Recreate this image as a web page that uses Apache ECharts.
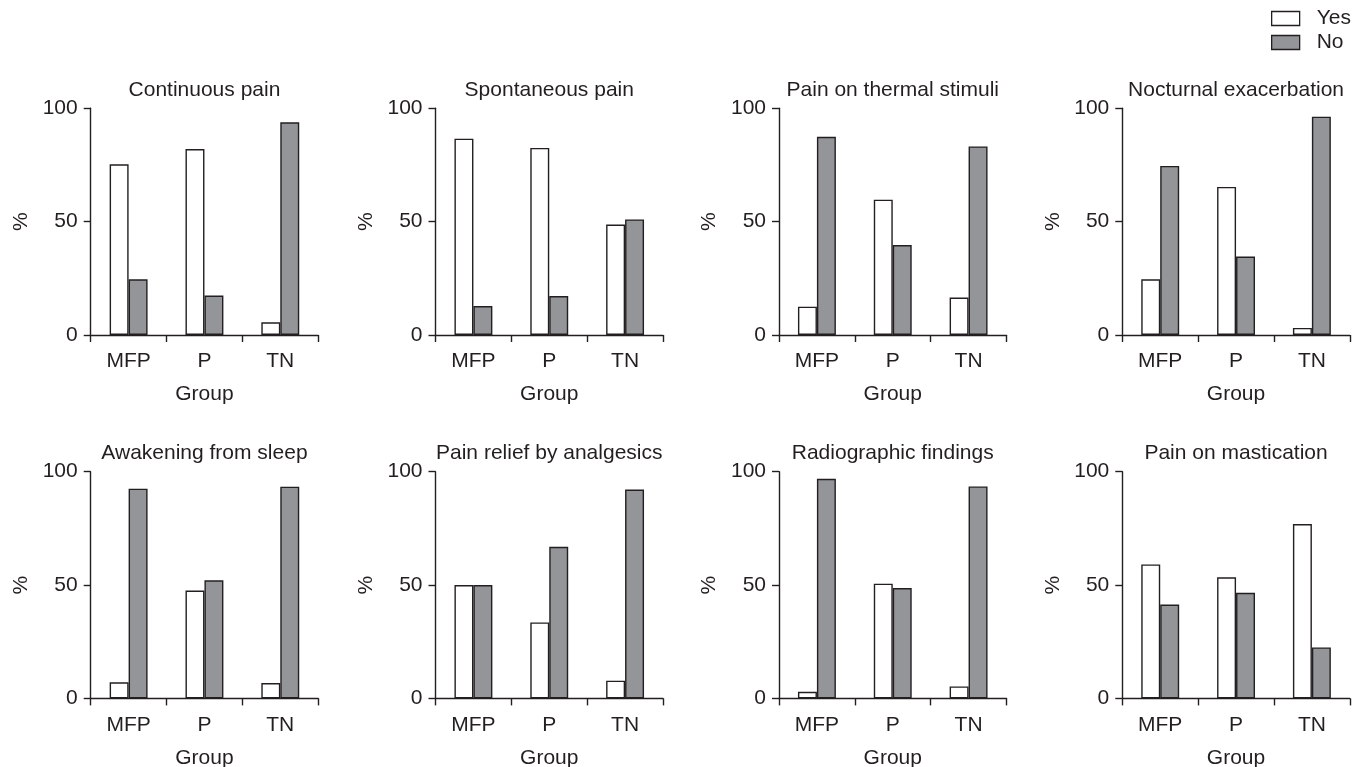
<!DOCTYPE html>
<html>
<head>
<meta charset="utf-8">
<script src="https://cdn.jsdelivr.net/npm/echarts@6/dist/echarts.min.js"></script>
<style>
html,body{margin:0;padding:0;background:#fff;}
#chart{width:1364px;height:767px;}
</style>
</head>
<body>
<div id="chart"></div>
<script>
const categories = ['MFP', 'P', 'TN'];
const panelTitles = [
  'Continuous pain', 'Spontaneous pain', 'Pain on thermal stimuli', 'Nocturnal exacerbation',
  'Awakening from sleep', 'Pain relief by analgesics', 'Radiographic findings', 'Pain on mastication'
];
const yesValues = [
  [75.3, 82.0, 5.6],
  [86.6, 82.5, 48.7],
  [12.5, 59.7, 16.5],
  [24.6, 65.3, 3.1],
  [7.1, 47.6, 6.8],
  [50.0, 33.5, 7.8],
  [2.9, 50.6, 5.3],
  [59.1, 53.4, 76.9]
];
const noValues = [
  [24.6, 17.4, 93.8],
  [12.8, 17.2, 51.0],
  [87.4, 39.7, 83.2],
  [74.6, 34.6, 96.3],
  [92.5, 52.1, 93.4],
  [50.0, 66.9, 92.1],
  [96.9, 48.7, 93.5],
  [41.4, 46.6, 22.5]
];
const yTicks = [0, 50, 100];
const seriesNames = ['Yes', 'No'];

const ink = '#231f20';
const grayFill = '#939598';
const font = '"Liberation Sans", Arial, Helvetica, sans-serif';
const fs = 21;
const colLeft = [90.7, 435.5, 779, 1122.3];
const rowTop = [108.3, 471.7];
const gw = 227.5, gh = 226.7;

const grids = [], xAxes = [], yAxes = [], series = [], titles = [];
for (let i = 0; i < 8; i++) {
  const r = Math.floor(i / 4), c = i % 4;
  grids.push({left: colLeft[c], top: rowTop[r], width: gw, height: gh, containLabel: false, outerBoundsMode: 'none'});
  titles.push({
    text: panelTitles[i],
    left: colLeft[c] + gw / 2,
    top: rowTop[r] - 29,
    textAlign: 'center',
    padding: 0,
    textStyle: {fontSize: fs, fontWeight: 'normal', color: ink, fontFamily: font}
  });
  xAxes.push({
    type: 'category', gridIndex: i, data: categories,
    boundaryGap: true,
    name: 'Group', nameLocation: 'middle', nameGap: 49,
    nameTextStyle: {fontSize: fs, color: ink, fontFamily: font},
    axisLine: {show: true, lineStyle: {color: ink, width: 1.4}},
    axisTick: {show: true, inside: false, length: 7, alignWithLabel: false, lineStyle: {color: ink, width: 1.4}},
    axisLabel: {fontSize: fs, color: ink, margin: 16, fontFamily: font},
    splitLine: {show: false}
  });
  yAxes.push({
    type: 'value', gridIndex: i, min: yTicks[0], max: yTicks[yTicks.length - 1], interval: yTicks[1] - yTicks[0],
    name: '%', nameLocation: 'middle', nameGap: 59, nameRotate: 90,
    nameTextStyle: {fontSize: fs, color: ink, fontFamily: font},
    axisLine: {show: true, lineStyle: {color: ink, width: 1.4}},
    axisTick: {show: true, inside: false, length: 7, lineStyle: {color: ink, width: 1.4}},
    axisLabel: {fontSize: fs, color: ink, margin: 13, fontFamily: font},
    splitLine: {show: false}
  });
  series.push({
    name: seriesNames[0], type: 'bar', xAxisIndex: i, yAxisIndex: i,
    data: yesValues[i], barGap: '0%', barCategoryGap: '50%',
    itemStyle: {color: '#ffffff', borderColor: ink, borderWidth: 1.4},
    emphasis: {disabled: true}, animation: false
  });
  series.push({
    name: seriesNames[1], type: 'bar', xAxisIndex: i, yAxisIndex: i,
    data: noValues[i], barGap: '0%', barCategoryGap: '50%',
    itemStyle: {color: grayFill, borderColor: ink, borderWidth: 1.4},
    emphasis: {disabled: true}, animation: false
  });
}

const chart = echarts.init(document.getElementById('chart'), null, {renderer: 'canvas'});
chart.setOption({
  animation: false,
  backgroundColor: '#ffffff',
  textStyle: {fontFamily: font, color: ink},
  title: titles,
  legend: {
    orient: 'vertical', left: 1271, top: 8, padding: 0,
    itemWidth: 28, itemHeight: 14, itemGap: 3,
    icon: 'rect',
    data: seriesNames,
    itemStyle: {borderColor: ink, borderWidth: 1.3},
    textStyle: {fontSize: fs, color: ink, fontFamily: font, padding: [0, 0, 0, 12]}
  },
  grid: grids,
  xAxis: xAxes,
  yAxis: yAxes,
  series: series
});
</script>
</body>
</html>
